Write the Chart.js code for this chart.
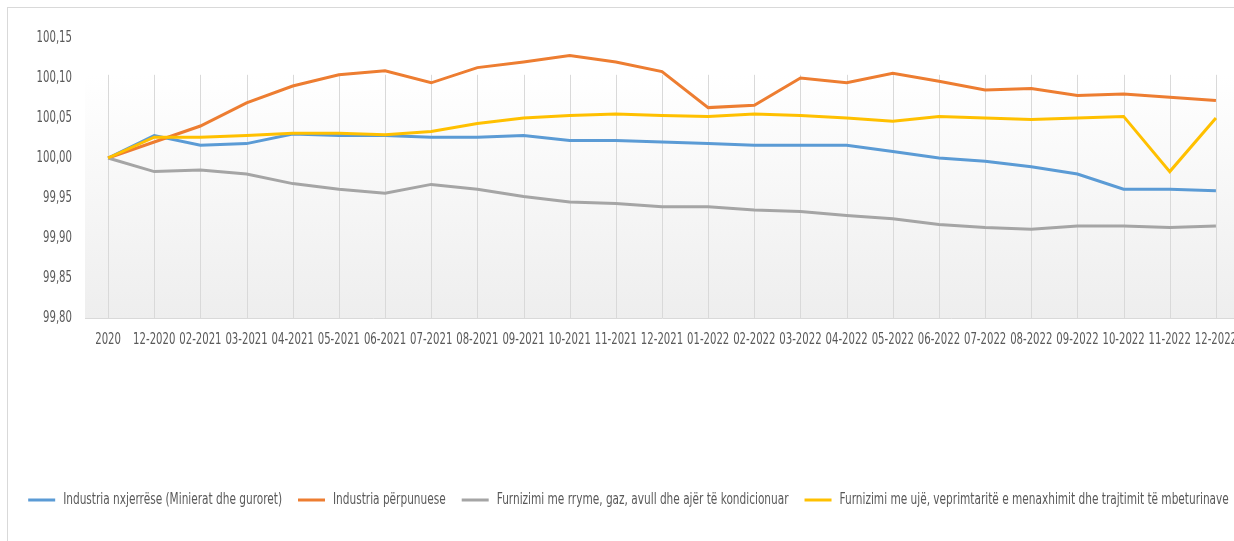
<!DOCTYPE html>
<html>
<head>
<meta charset="utf-8">
<script src="https://cdn.jsdelivr.net/npm/chart.js@4/dist/chart.umd.min.js"></script>
<style>
html,body{margin:0;padding:0;background:#fff;overflow:hidden;width:1234px;height:541px;}
#frame{position:absolute;left:7px;top:7px;width:2000px;height:2000px;border:1px solid #d9d9d9;box-sizing:border-box;}
#wrap{position:absolute;left:0;top:0;width:1257px;height:541px;}
</style>
</head>
<body>
<div id="frame"></div>
<div id="wrap"><canvas id="c"></canvas></div>
<script>
const categories = ['2020','12-2020','02-2021','03-2021','04-2021','05-2021','06-2021','07-2021','08-2021','09-2021','10-2021','11-2021','12-2021','01-2022','02-2022','03-2022','04-2022','05-2022','06-2022','07-2022','08-2022','09-2022','10-2022','11-2022','12-2022'];

const seriesNames = [
  'Industria nxjerrëse (Minierat dhe guroret)',
  'Industria përpunuese',
  'Furnizimi me rryme, gaz, avull dhe ajër të kondicionuar',
  'Furnizimi me ujë, veprimtaritë e menaxhimit dhe trajtimit të mbeturinave'
];

const miningValues = [100.000,100.028,100.016,100.018,100.030,100.028,100.028,100.026,100.026,100.028,100.022,100.022,100.020,100.018,100.016,100.016,100.016,100.008,100.000,99.996,99.989,99.980,99.961,99.961,99.959];
const manufacturingValues = [100.000,100.020,100.040,100.069,100.090,100.104,100.109,100.094,100.113,100.120,100.128,100.120,100.108,100.063,100.066,100.100,100.094,100.106,100.096,100.085,100.087,100.078,100.080,100.076,100.072];
const electricityValues = [100.000,99.983,99.985,99.980,99.968,99.961,99.956,99.967,99.961,99.952,99.945,99.943,99.939,99.939,99.935,99.933,99.928,99.924,99.917,99.913,99.911,99.915,99.915,99.913,99.915];
const waterValues = [100.000,100.026,100.026,100.028,100.031,100.031,100.029,100.033,100.043,100.050,100.053,100.055,100.053,100.052,100.055,100.053,100.050,100.046,100.052,100.050,100.048,100.050,100.052,99.983,100.050];

const yTicks = [99.80,99.85,99.90,99.95,100.00,100.05,100.10,100.15];
const yTickLabels = ['99,80','99,85','99,90','99,95','100,00','100,05','100,10','100,15'];

const colors = ['#5B9BD5','#ED7D31','#A5A5A5','#FFC000'];
const PLOT_TOP_VALUE = 100.104;
const FONT = "'DejaVu Sans Condensed','DejaVu Sans',sans-serif";

// Narrow (Calibri-like) text: condense glyphs horizontally, keyed by font size.
const SQUISH = { '15px': 0.75, '16px': 0.733 };
const _measure = CanvasRenderingContext2D.prototype.measureText;
const _fill = CanvasRenderingContext2D.prototype.fillText;
function squishFactor(ctx) {
  const m = ctx.font.match(/(\d+(?:\.\d+)?)px/);
  return (m && SQUISH[m[1] + 'px']) || 1;
}
CanvasRenderingContext2D.prototype.measureText = function (t) {
  const r = _measure.call(this, t);
  const k = squishFactor(this);
  if (k === 1) return r;
  return { width: r.width * k, actualBoundingBoxAscent: r.actualBoundingBoxAscent, actualBoundingBoxDescent: r.actualBoundingBoxDescent, actualBoundingBoxLeft: r.actualBoundingBoxLeft * k, actualBoundingBoxRight: r.actualBoundingBoxRight * k };
};
CanvasRenderingContext2D.prototype.fillText = function (t, x, y, mw) {
  const k = squishFactor(this);
  if (k === 1) return mw === undefined ? _fill.call(this, t, x, y) : _fill.call(this, t, x, y, mw);
  let w = _measure.call(this, t).width * k;
  if (mw !== undefined && mw !== null) w = Math.min(w, mw);
  return _fill.call(this, t, x, y, w);
};

const plotBg = {
  id: 'plotBg',
  beforeDraw(chart) {
    const {ctx, chartArea, scales: {x, y}} = chart;
    const top = y.getPixelForValue(PLOT_TOP_VALUE);
    const bottom = chartArea.bottom;
    const g = ctx.createLinearGradient(0, top, 0, bottom);
    g.addColorStop(0, '#ffffff');
    g.addColorStop(1, '#eeeeee');
    ctx.save();
    ctx.fillStyle = g;
    ctx.fillRect(chartArea.left, top, chartArea.right - chartArea.left, bottom - top);
    ctx.strokeStyle = '#d9d9d9';
    ctx.lineWidth = 1;
    x.ticks.forEach((t, i) => {
      const px = Math.round(x.getPixelForTick(i)) + 0.5;
      ctx.beginPath();
      ctx.moveTo(px, top);
      ctx.lineTo(px, bottom);
      ctx.stroke();
    });
    ctx.restore();
  }
};

const allValues = [miningValues, manufacturingValues, electricityValues, waterValues];
const datasets = allValues.map((vals, i) => ({
  label: seriesNames[i],
  data: vals,
  yAxisID: 'y',
  borderColor: colors[i],
  backgroundColor: colors[i],
  borderWidth: 3,
  pointRadius: 0,
  pointHoverRadius: 0,
  tension: 0,
  fill: false,
  order: 3 - i
}));

new Chart(document.getElementById('c'), {
  type: 'line',
  data: { labels: categories, datasets },
  options: {
    responsive: true,
    maintainAspectRatio: false,
    animation: false,
    layout: { padding: { top: 38, left: 0, right: 0, bottom: 23 } },
    plugins: {
      tooltip: { enabled: false },
      legend: {
        position: 'bottom',
        labels: {
          usePointStyle: true,
          pointStyle: 'line',
          pointStyleWidth: 27,
          padding: 16,
          color: '#595959',
          font: { family: FONT, size: 16 },
          sort: (a, b) => a.datasetIndex - b.datasetIndex
        }
      }
    },
    scales: {
      x: {
        offset: true,
        grid: { display: false, drawTicks: false },
        border: { display: true, color: '#d9d9d9', width: 1 },
        ticks: {
          color: '#595959',
          font: { family: FONT, size: 15 },
          padding: 13,
          maxRotation: 0,
          autoSkip: false
        },
        afterFit(scale) { scale.height = 158; }
      },
      y: {
        min: 99.80,
        max: 100.15,
        grid: { display: false, drawTicks: false },
        border: { display: false },
        afterBuildTicks(scale) { scale.ticks = yTicks.map(v => ({ value: v })); },
        ticks: {
          color: '#595959',
          font: { family: FONT, size: 15 },
          padding: 13,
          callback: (v, i) => yTickLabels[i]
        },
        afterFit(scale) { scale.width = 85; }
      },
      yRight: {
        type: 'linear',
        position: 'right',
        display: true,
        grid: { display: false, drawTicks: false },
        border: { display: false },
        ticks: { display: false },
        afterFit(scale) { scale.width = 18; }
      }
    }
  },
  plugins: [plotBg]
});
</script>
</body>
</html>
